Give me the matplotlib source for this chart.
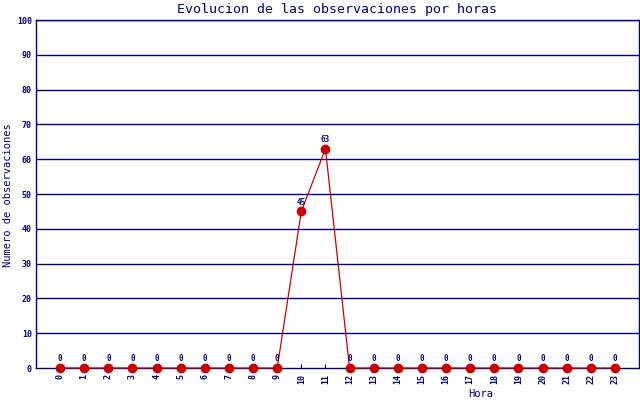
import numpy as np
import matplotlib.pyplot as plt

horas = list(range(24))
observaciones = [0, 0, 0, 0, 0, 0, 0, 0, 0, 0, 45, 63, 0, 0, 0, 0, 0, 0, 0, 0, 0, 0, 0, 0]
y_ticks = list(range(0, 101, 10))

NAVY = "#000080"
RED = "#cc0000"
MONO = "DejaVu Sans Mono"

fig = plt.figure(figsize=(6.4, 4.0), dpi=100)
ax = fig.add_axes([36 / 640, 32 / 400, 603 / 640, 348 / 400])

for v in y_ticks[1:]:
    ax.axhline(v, color=NAVY, lw=1, zorder=1)

ax.plot(horas, observaciones, color=RED, lw=0.9, marker="o", ms=6,
        mfc=RED, mec=RED, zorder=3, clip_on=False)

for h, v in zip(horas, observaciones):
    ax.annotate(str(v), (h, v), xytext=(0, 3.5), textcoords="offset points",
                ha="center", va="bottom", fontsize=5.5, color=NAVY,
                family=MONO, fontweight="bold")

ax.set_xlim(-1, 24)
ax.set_ylim(0, 100)
ax.set_xticks(horas)
ax.set_xticklabels([str(h) for h in horas], rotation=90)
ax.set_yticks(y_ticks)
ax.tick_params(axis="x", direction="in", length=3, color=NAVY, labelcolor=NAVY,
               labelsize=6, pad=4)
ax.tick_params(axis="y", length=0, labelcolor=NAVY, labelsize=6, pad=3)
for lab in ax.get_xticklabels() + ax.get_yticklabels():
    lab.set_family(MONO)
    lab.set_fontweight("bold")

for side in ["left", "bottom", "right", "top"]:
    ax.spines[side].set_color(NAVY)
    ax.spines[side].set_linewidth(1)

fig.text(337 / 640, 1 - 9 / 400, "Evolucion de las observaciones por horas",
         ha="center", va="center", fontsize=9.5, color=NAVY, family=MONO)
fig.text(8 / 640, 1 - 195 / 400, "Numero de observaciones", rotation=90,
         ha="center", va="center", fontsize=7.5, color=NAVY, family=MONO)
fig.text(481 / 640, 1 - 394 / 400, "Hora", ha="center", va="center",
         fontsize=7.5, color=NAVY, family=MONO)

fig.savefig("out.png", dpi=100)
